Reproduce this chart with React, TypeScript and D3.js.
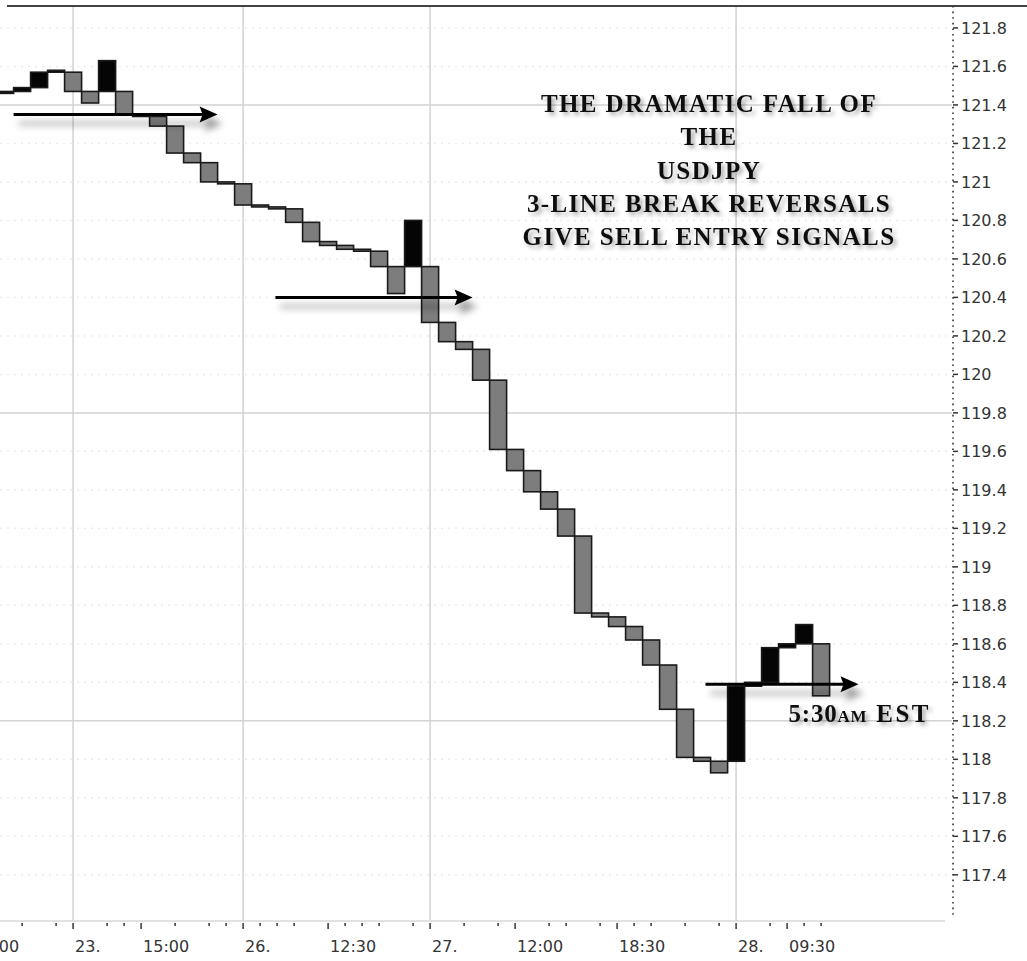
import React, { useRef, useEffect } from 'react';
import * as d3 from 'd3';

// USDJPY 3-line break: close of each line, oldest first
const firstOpen = 121.46;
const brickClose = [
  121.47, 121.49, 121.57, 121.58, 121.47, 121.41, 121.63, 121.35, 121.34, 121.29,
  121.15, 121.10, 121.00, 120.99, 120.88, 120.87, 120.86, 120.79, 120.69, 120.67,
  120.65, 120.64, 120.56, 120.42, 120.80, 120.27, 120.17, 120.13, 119.97, 119.61,
  119.50, 119.39, 119.30, 119.16, 118.76, 118.74, 118.69, 118.62, 118.49, 118.26,
  118.01, 117.99, 117.93, 118.38, 118.40, 118.58, 118.60, 118.70, 118.33,
];

// x axis ticks sit on bricks (line break charts have no regular time axis)
const majorTickBricks = [-2, 4, 8, 14, 19, 25, 30, 36, 43, 46];
const majorTickLabels = ['18:00', '23.', '15:00', '26.', '12:30', '27.', '12:00', '18:30', '28.', '09:30'];
const minorTickBricks = [1, 3, 6, 7, 10, 12, 13, 15, 16, 17, 20, 21, 22, 24, 27, 29, 32, 33, 35, 37, 38, 40, 42, 45, 47, 48];
const dayBricks = [4, 14, 25, 43];

const yTicks = [121.8, 121.6, 121.4, 121.2, 121, 120.8, 120.6, 120.4, 120.2, 120, 119.8, 119.6, 119.4, 119.2, 119, 118.8, 118.6, 118.4, 118.2, 118, 117.8, 117.6, 117.4];
const yGridSolid = [121.4, 119.8, 118.2];

const titleLines = ['THE DRAMATIC FALL OF', 'THE', 'USDJPY', '3-LINE BREAK REVERSALS', 'GIVE SELL ENTRY SIGNALS'];

// sell signal arrows: price level and brick span
const arrowLevel = [121.35, 120.4, 118.39];
const arrowFrom = [1.0, 16.4, 41.7];
const arrowTo = [13.0, 28.0, 50.7];

const App = () => {
  const svgRef = useRef(null);

  useEffect(() => {
    const width = 1027;
    const height = 961;
    const plot = { left: 0, right: 952, top: 6, bottom: 921 };

    const svg = d3.select(svgRef.current);
    svg.selectAll('*').remove();
    svg.attr('width', width).attr('height', height).style('background', '#fff');

    const x = d3.scaleLinear().domain([0.2, 56.2]).range([plot.left, plot.right]);
    const y = d3.scaleLinear().domain([117.16, 121.914]).range([plot.bottom, plot.top]);

    const defs = svg.append('defs');
    defs.append('clipPath').attr('id', 'plotClip')
      .append('rect')
      .attr('x', plot.left).attr('y', plot.top)
      .attr('width', plot.right - plot.left).attr('height', plot.bottom - plot.top);

    defs.append('filter').attr('id', 'arrowShadow')
      .attr('x', '-10%').attr('y', '-200%').attr('width', '130%').attr('height', '500%')
      .append('feDropShadow')
      .attr('dx', 5).attr('dy', 9).attr('stdDeviation', 3.5)
      .attr('flood-color', '#000').attr('flood-opacity', 0.4);

    defs.append('filter').attr('id', 'textShadow')
      .attr('x', '-10%').attr('y', '-30%').attr('width', '120%').attr('height', '160%')
      .append('feDropShadow')
      .attr('dx', 3).attr('dy', 3).attr('stdDeviation', 2)
      .attr('flood-color', '#000').attr('flood-opacity', 0.35);

    // faint dotted rows at every tick level
    svg.append('g')
      .selectAll('line')
      .data(yTicks.filter(v => !yGridSolid.includes(v)))
      .join('line')
      .attr('x1', plot.left).attr('x2', plot.right)
      .attr('y1', d => y(d)).attr('y2', d => y(d))
      .attr('stroke', '#ececec').attr('stroke-width', 1.5)
      .attr('stroke-dasharray', '2,5');

    // solid grid
    svg.append('g')
      .selectAll('line')
      .data(yGridSolid)
      .join('line')
      .attr('x1', plot.left).attr('x2', plot.right)
      .attr('y1', d => y(d)).attr('y2', d => y(d))
      .attr('stroke', '#d2d2d2').attr('stroke-width', 1.5);

    svg.append('g')
      .selectAll('line')
      .data(dayBricks)
      .join('line')
      .attr('x1', d => x(d + 0.5)).attr('x2', d => x(d + 0.5))
      .attr('y1', plot.top).attr('y2', plot.bottom)
      .attr('stroke', '#d2d2d2').attr('stroke-width', 1.5);

    // top frame
    svg.append('line')
      .attr('x1', 7).attr('x2', width)
      .attr('y1', plot.top).attr('y2', plot.top)
      .attr('stroke', '#444').attr('stroke-width', 2);

    // build the line break bricks: continuation opens at prev close, reversal at prev open
    const bricks = [];
    let prevOpen = firstOpen;
    let prevClose = firstOpen;
    let prevUp = null;
    brickClose.forEach((c, i) => {
      const up = c > prevClose;
      const open = i === 0 ? firstOpen : (up === prevUp ? prevClose : prevOpen);
      bricks.push({ i, open, close: c, up });
      prevOpen = open;
      prevClose = c;
      prevUp = up;
    });

    svg.append('g')
      .attr('clip-path', 'url(#plotClip)')
      .selectAll('rect')
      .data(bricks)
      .join('rect')
      .attr('x', d => x(d.i))
      .attr('width', d => x(d.i + 1) - x(d.i))
      .attr('y', d => y(Math.max(d.open, d.close)))
      .attr('height', d => Math.abs(y(d.open) - y(d.close)))
      .attr('fill', d => (d.up ? '#050505' : '#7d7d7d'))
      .attr('stroke', '#1a1a1a')
      .attr('stroke-width', 1.6);

    // right price axis
    const yAxisG = svg.append('g');
    yAxisG.append('line')
      .attr('x1', plot.right + 1).attr('x2', plot.right + 1)
      .attr('y1', plot.top).attr('y2', plot.bottom - 6)
      .attr('stroke', '#333').attr('stroke-width', 1.6)
      .attr('stroke-dasharray', '1.6,4');
    yAxisG.selectAll('.tick')
      .data(yTicks)
      .join('g')
      .attr('class', 'tick')
      .attr('transform', d => `translate(0,${y(d)})`)
      .each(function (d) {
        const t = d3.select(this);
        t.append('line')
          .attr('x1', plot.right + 1).attr('x2', plot.right + 6)
          .attr('stroke', '#333').attr('stroke-width', 1.5);
        t.append('text')
          .attr('x', plot.right + 9)
          .attr('dy', '0.36em')
          .attr('font-family', 'DejaVu Sans, Verdana, sans-serif')
          .attr('font-size', 16)
          .attr('fill', '#333')
          .text(String(d));
      });

    // bottom time axis
    const xAxisG = svg.append('g');
    xAxisG.append('line')
      .attr('x1', plot.left).attr('x2', plot.right - 7)
      .attr('y1', plot.bottom).attr('y2', plot.bottom)
      .attr('stroke', '#d8d8d8').attr('stroke-width', 1.5);
    xAxisG.selectAll('.minor')
      .data(minorTickBricks)
      .join('line')
      .attr('class', 'minor')
      .attr('x1', d => x(d + 0.5)).attr('x2', d => x(d + 0.5))
      .attr('y1', plot.bottom + 2).attr('y2', plot.bottom + 5)
      .attr('stroke', '#333').attr('stroke-width', 1.5);
    const major = xAxisG.selectAll('.major')
      .data(majorTickBricks)
      .join('g')
      .attr('class', 'major')
      .attr('transform', d => `translate(${x(d + 0.5)},0)`);
    major.append('line')
      .attr('y1', plot.bottom + 2).attr('y2', plot.bottom + 8)
      .attr('stroke', '#333').attr('stroke-width', 1.5);
    major.append('text')
      .attr('x', 2)
      .attr('y', plot.bottom + 31)
      .attr('font-family', 'DejaVu Sans, Verdana, sans-serif')
      .attr('font-size', 16)
      .attr('fill', '#333')
      .text((d, i) => majorTickLabels[i]);

    // signal arrows
    const arrows = svg.append('g').attr('filter', 'url(#arrowShadow)');
    arrowLevel.forEach((lvl, i) => {
      const x1 = x(arrowFrom[i]);
      const x2 = x(arrowTo[i]);
      const yy = y(lvl);
      arrows.append('line')
        .attr('x1', x1).attr('x2', x2 - 14)
        .attr('y1', yy).attr('y2', yy)
        .attr('stroke', '#000').attr('stroke-width', 3);
      arrows.append('path')
        .attr('d', `M${x2},${yy} L${x2 - 18},${yy - 8} L${x2 - 15},${yy} L${x2 - 18},${yy + 8} Z`)
        .attr('fill', '#000');
    });

    // title block
    const title = svg.append('g').attr('filter', 'url(#textShadow)');
    title.selectAll('text')
      .data(titleLines)
      .join('text')
      .attr('x', 709)
      .attr('y', (d, i) => 112 + i * 33.3)
      .attr('text-anchor', 'middle')
      .attr('font-family', 'Liberation Serif, Times New Roman, serif')
      .attr('font-weight', 'bold')
      .attr('font-size', 25)
      .attr('letter-spacing', 1.4)
      .attr('fill', '#111')
      .text(d => d);

    const note = svg.append('text')
      .attr('x', x(arrowFrom[2]) + 83)
      .attr('y', y(arrowLevel[2]) + 38)
      .attr('font-family', 'Liberation Serif, Times New Roman, serif')
      .attr('font-weight', 'bold')
      .attr('font-size', 25)
      .attr('letter-spacing', 0.8)
      .attr('fill', '#111')
      .attr('filter', 'url(#textShadow)');
    note.append('tspan').text('5:30');
    note.append('tspan').attr('font-size', 17).text('AM');
    note.append('tspan').attr('letter-spacing', 2.5).text(' EST');
  }, []);

  return (
    <div style={{ position: 'absolute', left: 0, top: 0 }}>
      <svg ref={svgRef} style={{ display: 'block' }}></svg>
    </div>
  );
};

export default App;
